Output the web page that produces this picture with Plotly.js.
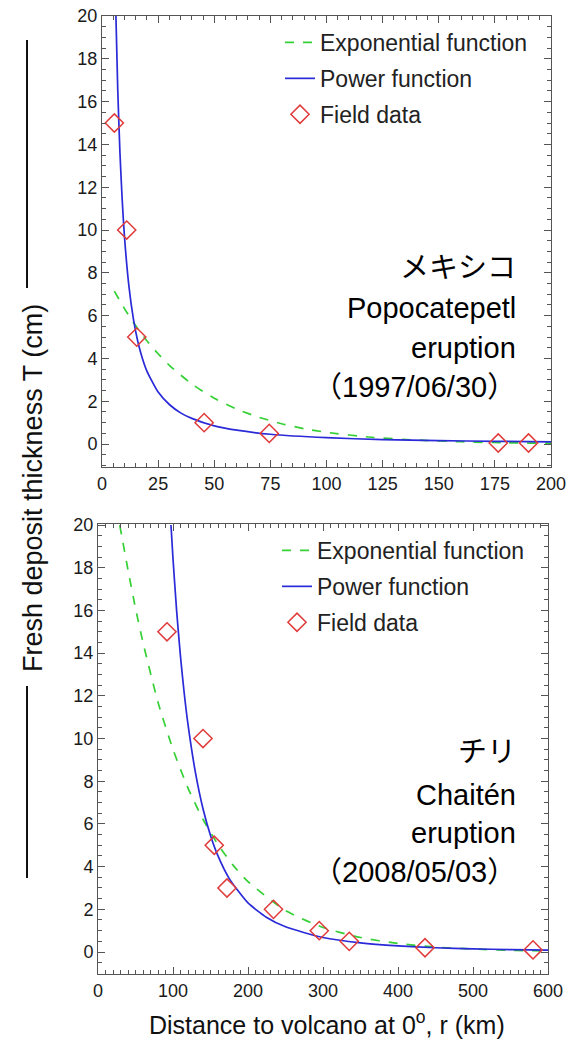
<!DOCTYPE html>
<html>
<head>
<meta charset="utf-8">
<script src="https://cdn.plot.ly/plotly-3.0.1.min.js"></script>
<style>html,body{margin:0;padding:0;background:#fff;}#chart{width:577px;height:1039px;}</style>
</head>
<body>
<div id="chart"></div>
<script>
// ---------- Data: Popocatepetl eruption (1997/06/30) ----------
var popoFieldR = [5.5, 11, 15.5, 45.5, 74.5, 176.5, 190];
var popoFieldT = [15, 10, 5, 1, 0.5, 0.05, 0.05];
var popoExpR = [5.5, 10, 15, 20, 25, 30, 40, 50, 60, 70, 80, 90, 100, 120, 140, 160, 180, 200];
var popoExpT = [7.15, 6.33, 5.53, 4.83, 4.22, 3.68, 2.81, 2.14, 1.63, 1.25, 0.95, 0.72, 0.55, 0.32, 0.19, 0.11, 0.06, 0.04];
var popoPowR = [6.2, 7, 8, 9, 10, 12, 14, 16, 18, 20, 25, 30, 35, 40, 50, 60, 75, 100, 125, 150, 175, 200];
var popoPowT = [20, 16.6, 13.6, 11.4, 9.7, 7.37, 5.84, 4.77, 4.0, 3.41, 2.43, 1.85, 1.46, 1.20, 0.85, 0.65, 0.46, 0.30, 0.21, 0.16, 0.13, 0.105];

// ---------- Data: Chaitén eruption (2008/05/03) ----------
var chaiFieldR = [92, 140, 155, 172, 234, 295, 335, 436, 580];
var chaiFieldT = [15, 10, 5, 3, 2, 1, 0.5, 0.2, 0.1];
var chaiExpR = [29, 40, 50, 60, 80, 100, 120, 140, 160, 180, 200, 250, 300, 350, 400, 450, 500, 550, 600];
var chaiExpT = [20, 17.9, 16.1, 14.5, 11.7, 9.49, 7.68, 6.22, 5.03, 4.07, 3.30, 1.94, 1.15, 0.68, 0.40, 0.23, 0.14, 0.08, 0.05];
var chaiPowR = [97.3, 100, 105, 110, 115, 120, 130, 140, 150, 160, 175, 200, 225, 250, 300, 350, 400, 450, 500, 550, 600];
var chaiPowT = [20, 18.42, 15.91, 13.84, 12.11, 10.66, 8.39, 6.71, 5.46, 4.50, 3.44, 2.30, 1.62, 1.18, 0.68, 0.43, 0.29, 0.20, 0.15, 0.11, 0.085];

// ---------- Labels ----------
var seriesNames = ["Exponential function", "Power function", "Field data"];
var topLabels = ["メキシコ", "Popocatepetl", "eruption", "（1997/06/30）"];
var bottomLabels = ["チリ", "Chaitén", "eruption", "（2008/05/03）"];
var xTitle = "Distance to volcano at 0<sup>o</sup>, r (km)";
var yTitle = "Fresh deposit thickness T (cm)";

// ---------- Layout geometry (pixels) ----------
var W = 577, H = 1039;
var M = {l: 98, r: 26, t: 16, b: 65};
var PW = W - M.l - M.r, PH = H - M.t - M.b;
function px(x) { return (x - M.l) / PW; }
function py(y) { return (H - M.b - y) / PH; }

var FONT = "Liberation Sans, Arial, Noto Sans CJK JP, sans-serif";
var green = "#35d035", blue = "#2a2ad8", red = "#e03a3a", axc = "#555555";

function lineTrace(x, y, name, color, dash, xa, ya, lg) {
  return {x: x, y: y, name: name, type: "scatter", mode: "lines",
    line: {color: color, width: 1.7, dash: dash, shape: "spline", smoothing: 0.6},
    xaxis: xa, yaxis: ya, legend: lg, legendgroup: lg + name, cliponaxis: true};
}
function ptsTrace(x, y, name, xa, ya, lg) {
  return {x: x, y: y, name: name, type: "scatter", mode: "markers",
    marker: {symbol: "diamond-open", size: 14, color: red, line: {color: red, width: 1.5}},
    xaxis: xa, yaxis: ya, legend: lg, legendgroup: lg + name, cliponaxis: false};
}

var traces = [
  lineTrace(popoExpR, popoExpT, seriesNames[0], green, "dash", "x", "y", "legend"),
  lineTrace(popoPowR, popoPowT, seriesNames[1], blue, "solid", "x", "y", "legend"),
  ptsTrace(popoFieldR, popoFieldT, seriesNames[2], "x", "y", "legend"),
  lineTrace(chaiExpR, chaiExpT, seriesNames[0], green, "dash", "x2", "y2", "legend2"),
  lineTrace(chaiPowR, chaiPowT, seriesNames[1], blue, "solid", "x2", "y2", "legend2"),
  ptsTrace(chaiFieldR, chaiFieldT, seriesNames[2], "x2", "y2", "legend2")
];

function axis(extra) {
  var a = {showgrid: false, zeroline: false, showline: true, linecolor: axc, linewidth: 1,
    mirror: "allticks", ticks: "inside", ticklen: 7, tickwidth: 1, tickcolor: axc,
    tickfont: {family: FONT, size: 18, color: "#1a1a1a"},
    minor: {ticks: "inside", ticklen: 4, tickwidth: 1, tickcolor: axc}};
  for (var k in extra) a[k] = extra[k];
  return a;
}

var annotations = [];
var topY = [268, 308, 348, 387], botY = [752, 795, 833, 872];
for (var i = 0; i < 4; i++) {
  annotations.push({xref: "paper", yref: "paper", x: px(518), y: py(topY[i]), xanchor: "right", yanchor: "middle",
    text: topLabels[i], showarrow: false, font: {family: FONT, size: 29, color: "#000"}});
  annotations.push({xref: "paper", yref: "paper", x: px(518), y: py(botY[i]), xanchor: "right", yanchor: "middle",
    text: bottomLabels[i], showarrow: false, font: {family: FONT, size: 29, color: "#000"}});
}
annotations.push({xref: "paper", yref: "paper", x: px(327), y: py(1023), xanchor: "center", yanchor: "middle",
  text: xTitle, showarrow: false, font: {family: FONT, size: 25, color: "#111"}});
annotations.push({xref: "paper", yref: "paper", x: px(33), y: py(488), xanchor: "center", yanchor: "middle",
  text: yTitle, textangle: -90, showarrow: false, font: {family: FONT, size: 27, color: "#111"}});

var layout = {
  width: W, height: H, margin: M, paper_bgcolor: "#fff", plot_bgcolor: "#fff",
  font: {family: FONT},
  xaxis: axis({domain: [px(102), 1], range: [0, 200], dtick: 25, tick0: 0, anchor: "y", minor: {dtick: 5, ticks: "inside", ticklen: 4, tickcolor: axc}}),
  yaxis: axis({domain: [py(467), 1], range: [-1.07, 20], dtick: 2, tick0: 0, anchor: "x", minor: {dtick: 0.5, ticks: "inside", ticklen: 4, tickcolor: axc}}),
  xaxis2: axis({domain: [0, px(548)], range: [0, 600], dtick: 100, tick0: 0, anchor: "y2", minor: {dtick: 10, ticks: "inside", ticklen: 4, tickcolor: axc}}),
  yaxis2: axis({domain: [0, py(524)], range: [-1.03, 20.05], dtick: 2, tick0: 0, anchor: "x2", minor: {dtick: 0.5, ticks: "inside", ticklen: 4, tickcolor: axc}}),
  legend: {x: px(280), y: py(21), xanchor: "left", yanchor: "top", bgcolor: "rgba(0,0,0,0)",
    font: {family: FONT, size: 23, color: "#222"}, traceorder: "grouped", tracegroupgap: 3},
  legend2: {x: px(277), y: py(529), xanchor: "left", yanchor: "top", bgcolor: "rgba(0,0,0,0)",
    font: {family: FONT, size: 23, color: "#222"}, traceorder: "grouped", tracegroupgap: 3},
  annotations: annotations,
  shapes: [
    {type: "line", xref: "paper", yref: "paper", x0: px(27), x1: px(27), y0: py(40), y1: py(288), line: {color: "#111", width: 2}},
    {type: "line", xref: "paper", yref: "paper", x0: px(27), x1: px(27), y0: py(686), y1: py(878), line: {color: "#111", width: 2}}
  ],
  showlegend: true
};

Plotly.newPlot("chart", traces, layout, {displayModeBar: false, staticPlot: true});
</script>
</body>
</html>
